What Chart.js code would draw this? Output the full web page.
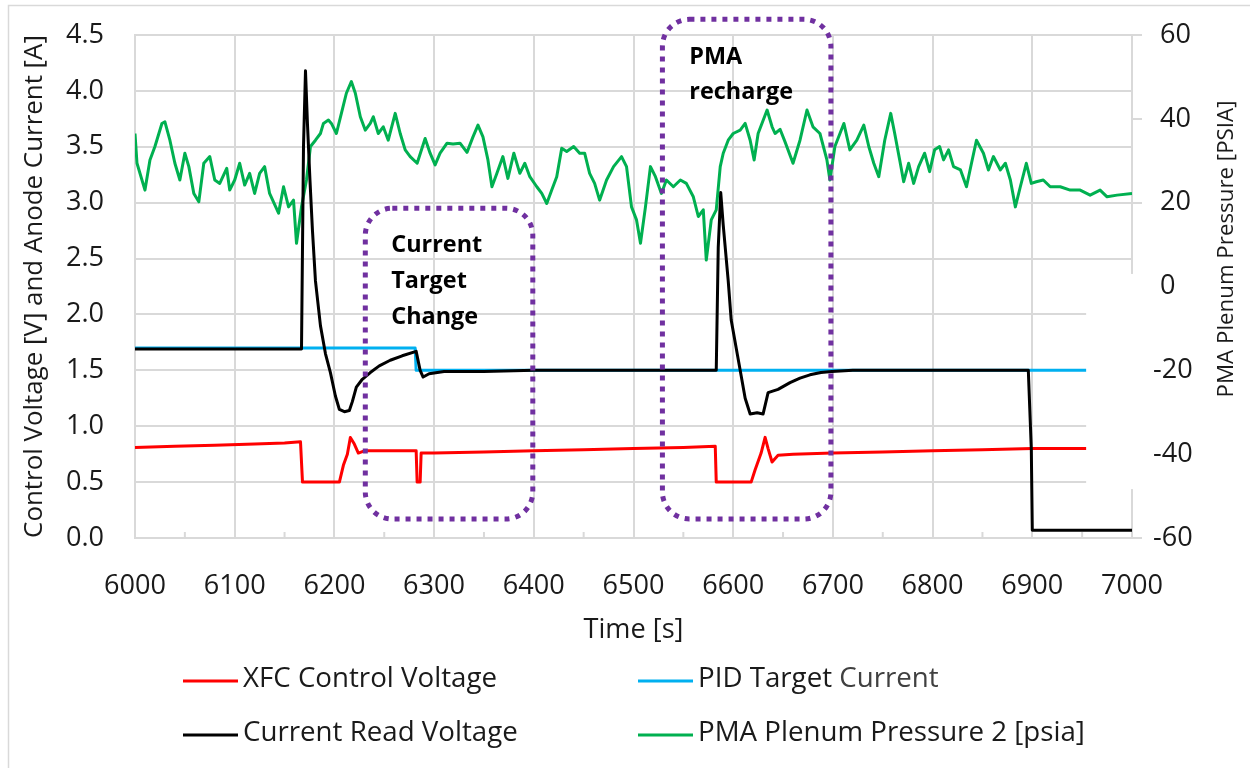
<!DOCTYPE html>
<html>
<head>
<meta charset="utf-8">
<script src="https://cdn.jsdelivr.net/npm/chart.js@4.4.1/dist/chart.umd.min.js"></script>
<style>
  body { margin: 0; background: #fff; }
  canvas { display: block; }
</style>
</head>
<body>
<canvas id="chart" width="1250" height="768"></canvas>
<script>
// values
const redTime = [6000, 6040, 6080, 6120, 6150, 6166, 6168, 6205, 6209, 6213, 6216, 6220, 6224, 6230, 6250, 6282, 6283, 6286, 6287, 6300, 6350, 6400, 6450, 6500, 6550, 6582, 6583, 6618, 6622, 6628, 6632, 6635, 6639, 6645, 6660, 6700, 6750, 6800, 6850, 6900, 6955];
const redVolt = [0.81, 0.82, 0.83, 0.84, 0.85, 0.86, 0.50, 0.50, 0.65, 0.75, 0.90, 0.84, 0.76, 0.78, 0.78, 0.78, 0.50, 0.50, 0.76, 0.76, 0.77, 0.78, 0.79, 0.80, 0.81, 0.82, 0.50, 0.50, 0.61, 0.76, 0.90, 0.80, 0.68, 0.74, 0.75, 0.76, 0.77, 0.78, 0.79, 0.80, 0.80];

const blueTime = [6000, 6281, 6282, 6955];
const blueCurr = [1.70, 1.70, 1.50, 1.50];

const blackTime = [6000, 6100, 6167, 6169, 6171, 6173, 6175.5, 6178, 6181, 6186, 6191, 6196, 6201, 6205, 6210, 6215, 6218, 6222, 6228, 6236, 6245, 6256, 6268, 6282, 6286, 6289, 6295, 6310, 6350, 6400, 6500, 6583, 6585, 6587.5, 6590, 6595, 6598, 6603, 6607, 6612, 6617, 6624, 6630, 6635, 6645, 6657, 6667, 6677, 6688, 6699, 6720, 6800, 6896, 6899, 6900, 7000];
const blackRead = [1.69, 1.69, 1.69, 3.5, 4.18, 3.7, 3.2, 2.75, 2.3, 1.9, 1.65, 1.48, 1.27, 1.15, 1.13, 1.14, 1.22, 1.35, 1.42, 1.48, 1.54, 1.59, 1.63, 1.67, 1.50, 1.44, 1.47, 1.49, 1.49, 1.50, 1.50, 1.50, 2.6, 3.09, 2.8, 2.3, 1.95, 1.7, 1.5, 1.25, 1.11, 1.12, 1.11, 1.30, 1.33, 1.39, 1.43, 1.46, 1.48, 1.49, 1.50, 1.50, 1.50, 0.8, 0.07, 0.07];

const greenTime = [6000, 6002, 6010, 6015, 6020, 6027, 6030, 6035, 6040, 6045, 6050, 6054, 6059, 6064, 6069, 6075, 6080, 6085, 6092, 6095, 6100, 6105, 6110, 6115, 6120, 6125, 6130, 6135, 6144, 6149, 6154, 6159, 6162, 6167, 6172, 6176, 6181, 6186, 6189, 6194, 6197, 6202, 6207, 6212, 6217, 6221, 6226, 6231, 6236, 6239, 6244, 6249, 6254, 6261, 6266, 6271, 6276, 6283, 6291, 6296, 6301, 6306, 6313, 6319, 6326, 6333, 6339, 6344, 6349, 6354, 6358, 6363, 6369, 6374, 6380, 6386, 6391, 6396, 6403, 6408, 6413, 6418, 6423, 6428, 6433, 6440, 6446, 6451, 6456, 6461, 6466, 6473, 6480, 6488, 6493, 6498, 6503, 6507, 6512, 6517, 6522, 6528, 6533, 6540, 6547, 6553, 6560, 6565, 6570, 6573, 6578, 6583, 6587, 6590, 6595, 6600, 6607, 6612, 6617, 6621, 6625, 6634, 6639, 6642, 6647, 6652, 6660, 6667, 6674, 6680, 6687, 6694, 6697, 6702, 6711, 6717, 6724, 6731, 6736, 6741, 6746, 6752, 6758, 6762, 6767, 6771, 6776, 6781, 6786, 6792, 6797, 6802, 6807, 6811, 6816, 6821, 6828, 6834, 6839, 6844, 6851, 6856, 6861, 6868, 6873, 6878, 6883, 6888, 6894, 6899, 6904, 6911, 6918, 6928, 6938, 6948, 6958, 6968, 6975, 6985, 7000];
const greenPress = [36.5, 29.4, 23.0, 30.2, 33.4, 38.9, 39.3, 34.9, 29.4, 25.4, 31.8, 28.6, 22.2, 20.2, 29.4, 31.0, 25.4, 24.6, 28.2, 23.0, 25.4, 29.4, 24.2, 27.0, 22.2, 27.0, 28.6, 22.2, 17.5, 23.8, 19.0, 20.6, 10.3, 19.0, 25.4, 33.4, 34.9, 36.5, 38.9, 39.7, 38.9, 36.5, 41.3, 46.1, 48.9, 46.1, 40.5, 37.3, 38.9, 40.5, 36.5, 38.1, 34.9, 41.3, 36.5, 32.6, 31.0, 29.4, 35.3, 31.8, 29.0, 31.8, 34.2, 34.0, 34.2, 32.0, 35.7, 38.5, 35.7, 30.2, 23.8, 27.0, 31.0, 25.8, 31.8, 27.0, 29.4, 26.2, 23.8, 22.2, 19.8, 23.0, 26.2, 33.0, 32.2, 33.4, 31.8, 31.8, 27.0, 24.6, 20.6, 25.4, 28.6, 31.0, 28.6, 19.0, 15.9, 10.3, 19.0, 28.6, 26.2, 22.2, 25.4, 23.8, 25.4, 24.6, 21.4, 16.7, 18.3, 6.3, 15.9, 18.3, 28.6, 31.8, 34.9, 36.5, 37.3, 38.9, 34.9, 30.2, 36.5, 42.1, 38.1, 36.5, 37.5, 34.5, 29.4, 34.9, 42.1, 38.1, 36.5, 30.2, 25.4, 33.4, 38.9, 32.6, 34.9, 38.5, 33.4, 29.4, 26.2, 34.9, 41.3, 36.5, 30.2, 25.0, 29.4, 24.6, 28.6, 31.8, 27.4, 32.6, 33.4, 30.2, 32.6, 28.6, 27.8, 23.8, 29.4, 34.9, 31.8, 27.8, 31.0, 27.8, 29.4, 25.4, 19.0, 23.8, 29.4, 24.6, 25.0, 25.4, 23.8, 23.8, 23.0, 23.0, 21.8, 23.0, 21.4, 21.8, 22.2];

const xTicks = [6000, 7000, 100];
const leftTicks = [0, 4.5, 0.5];
const rightTicks = [-60, 60, 20];
const note1 = ['Current', 'Target', 'Change'];
const note2 = ['PMA', 'recharge'];
const legendNames = ['XFC Control Voltage', 'PID Target ', 'Current Read Voltage', 'PMA Plenum Pressure 2 [psia]'];
const legendColors = ['#ff0000', '#00b0f0', '#000000', '#00b050'];

function pts(t, v) {
    return t.map((x, i) => ({x: x, y: v[i]}));
}

// pick font sizes so that the texts get the widths they have in the picture
const FONT = "'Open Sans', sans-serif";
const mctx = document.createElement('canvas').getContext('2d');
function fitSize(text, width, weight) {
    mctx.font = (weight || '') + ' 100px ' + FONT;
    return 100 * width / mctx.measureText(text).width;
}
const tickSize = fitSize('6000', 62);
const leftTitleSize = fitSize('Control Voltage [V] and Anode Current [A]', 503);
const rightTitleSize = fitSize('PMA Plenum Pressure [PSIA]', 297);
const legendSize = fitSize('PMA Plenum Pressure 2 [psia]', 387);
const timeSize = fitSize('Time [s]', 100);
const noteSize = (fitSize('Current', 90, 'bold') + fitSize('recharge', 105, 'bold')) / 2;

Chart.defaults.font.family = FONT;
Chart.defaults.font.size = tickSize;
Chart.defaults.color = '#1a1a1a';

const gridGray = '#d9d9d9';

// frame, dotted boxes, labels, legend, minor ticks and the white patch of the original
const overlay = {
    id: 'overlay',
    afterDatasetsDraw(chart) {
        const {ctx, chartArea, scales: {x, y, y2}} = chart;
        ctx.save();

        // white patch over the lower right corner of the frame
        ctx.fillStyle = '#fff';
        const px0 = x.getPixelForValue(6954);
        const py0 = y2.getPixelForValue(3);
        const py1 = y.getPixelForValue(0.5) + 7;
        ctx.fillRect(px0, py0, chartArea.right + 14 - px0, py1 - py0);

        // outer frame of the chart
        ctx.strokeStyle = gridGray;
        ctx.lineWidth = 1.5;
        ctx.strokeRect(8.5, 5.5, 1400, 900);

        // minor ticks on the time axis
        ctx.lineWidth = 2;
        for (let t = xTicks[0] + xTicks[2] / 2; t < xTicks[1]; t += xTicks[2]) {
            const px = x.getPixelForValue(t);
            ctx.beginPath();
            ctx.moveTo(px, chartArea.bottom);
            ctx.lineTo(px, chartArea.bottom - 6);
            ctx.stroke();
        }

        // dotted rounded boxes
        ctx.strokeStyle = '#7030a0';
        ctx.lineWidth = 5;
        ctx.setLineDash([5, 6]);
        const boxes = [[6231, 6399, 0.17, 2.95], [6529, 6698, 0.17, 4.64]];
        boxes.forEach(b => {
            const l = x.getPixelForValue(b[0]), r = x.getPixelForValue(b[1]);
            const t = y.getPixelForValue(b[3]), btm = y.getPixelForValue(b[2]);
            const rad = 27;
            ctx.beginPath();
            ctx.moveTo(l + rad, t);
            ctx.lineTo(r - rad, t);
            ctx.arcTo(r, t, r, t + rad, rad);
            ctx.lineTo(r, btm - rad);
            ctx.arcTo(r, btm, r - rad, btm, rad);
            ctx.lineTo(l + rad, btm);
            ctx.arcTo(l, btm, l, btm - rad, rad);
            ctx.lineTo(l, t + rad);
            ctx.arcTo(l, t, l + rad, t, rad);
            ctx.closePath();
            ctx.stroke();
        });
        ctx.setLineDash([]);

        // labels in the boxes
        ctx.fillStyle = '#000';
        ctx.font = 'bold ' + noteSize + 'px ' + FONT;
        ctx.textAlign = 'left';
        ctx.textBaseline = 'middle';
        note1.forEach((s, i) => {
            ctx.fillText(s, x.getPixelForValue(6257), y.getPixelForValue(2.62) + i * 36);
        });
        note2.forEach((s, i) => {
            ctx.fillText(s, x.getPixelForValue(6556), y.getPixelForValue(4.30) + i * 35);
        });

        // legend, two columns and two rows
        ctx.font = legendSize + 'px ' + FONT;
        ctx.lineWidth = 3;
        const cols = [183, 638], rows = [681, 735];
        legendNames.forEach((name, i) => {
            const lx = cols[i % 2], ly = rows[Math.floor(i / 2)];
            ctx.strokeStyle = legendColors[i];
            ctx.beginPath();
            ctx.moveTo(lx, ly);
            ctx.lineTo(lx + 55, ly);
            ctx.stroke();
            ctx.fillStyle = '#1a1a1a';
            ctx.fillText(name, lx + 60, ly - 2);
            if (i === 1) {
                ctx.fillStyle = '#404040';
                ctx.fillText('Current', lx + 60 + ctx.measureText(name).width, ly - 2);
            }
        });

        // right axis title, reading bottom to top
        ctx.font = rightTitleSize + 'px ' + FONT;
        ctx.fillStyle = '#1a1a1a';
        ctx.textAlign = 'center';
        ctx.translate(1227, 249);
        ctx.rotate(-Math.PI / 2);
        ctx.fillText('PMA Plenum Pressure [PSIA]', 0, 0);
        ctx.restore();
    }
};

const lineStyle = {pointRadius: 0, borderWidth: 3, tension: 0, fill: false, borderJoinStyle: 'round'};

new Chart(document.getElementById('chart'), {
    type: 'line',
    data: {
        datasets: [
            Object.assign({label: 'Current Read Voltage', data: pts(blackTime, blackRead), borderColor: '#000000', yAxisID: 'y', order: 0}, lineStyle),
            Object.assign({label: 'XFC Control Voltage', data: pts(redTime, redVolt), borderColor: '#ff0000', yAxisID: 'y', order: 1}, lineStyle),
            Object.assign({label: 'PID Target Current', data: pts(blueTime, blueCurr), borderColor: '#00b0f0', yAxisID: 'y', order: 2}, lineStyle),
            Object.assign({label: 'PMA Plenum Pressure 2 [psia]', data: pts(greenTime, greenPress), borderColor: '#00b050', yAxisID: 'y2', order: 3}, lineStyle)
        ]
    },
    options: {
        responsive: false,
        animation: false,
        devicePixelRatio: 1,
        layout: {padding: {top: 35, left: 0, right: 0, bottom: 0}},
        plugins: {legend: {display: false}, tooltip: {enabled: false}},
        scales: {
            x: {
                type: 'linear',
                position: 'bottom',
                min: xTicks[0], max: xTicks[1],
                ticks: {stepSize: xTicks[2], padding: Math.round(44 - 0.46 * tickSize), maxRotation: 0, callback: v => String(v)},
                grid: {color: gridGray, lineWidth: 2, tickLength: 0},
                border: {color: gridGray, width: 2},
                title: {display: true, text: 'Time [s]', font: {size: timeSize}, padding: {bottom: 138 - 0.6 * timeSize}},
                afterFit: s => { s.height = 230; }
            },
            y: {
                position: 'left',
                min: leftTicks[0], max: leftTicks[1],
                ticks: {stepSize: leftTicks[2], padding: 31, callback: v => v.toFixed(1)},
                grid: {color: gridGray, lineWidth: 2, tickLength: 0},
                border: {color: gridGray, width: 2},
                title: {display: true, text: 'Control Voltage [V] and Anode Current [A]', font: {size: leftTitleSize}, padding: {top: 35 - 0.6 * leftTitleSize}},
                afterFit: s => { s.width = 135; s.paddingTop = 0; s.paddingBottom = 0; }
            },
            y2: {
                position: 'right',
                min: rightTicks[0], max: rightTicks[1],
                ticks: {stepSize: rightTicks[2], padding: 11, crossAlign: 'near', callback: v => (v >= 0 ? '\u2008' : '') + v},
                grid: {drawOnChartArea: false, color: gridGray, lineWidth: 2, tickLength: 10},
                border: {color: gridGray, width: 2},
                afterFit: s => { s.width = 118; s.paddingTop = 0; s.paddingBottom = 0; }
            }
        }
    },
    plugins: [overlay]
});
</script>
</body>
</html>
